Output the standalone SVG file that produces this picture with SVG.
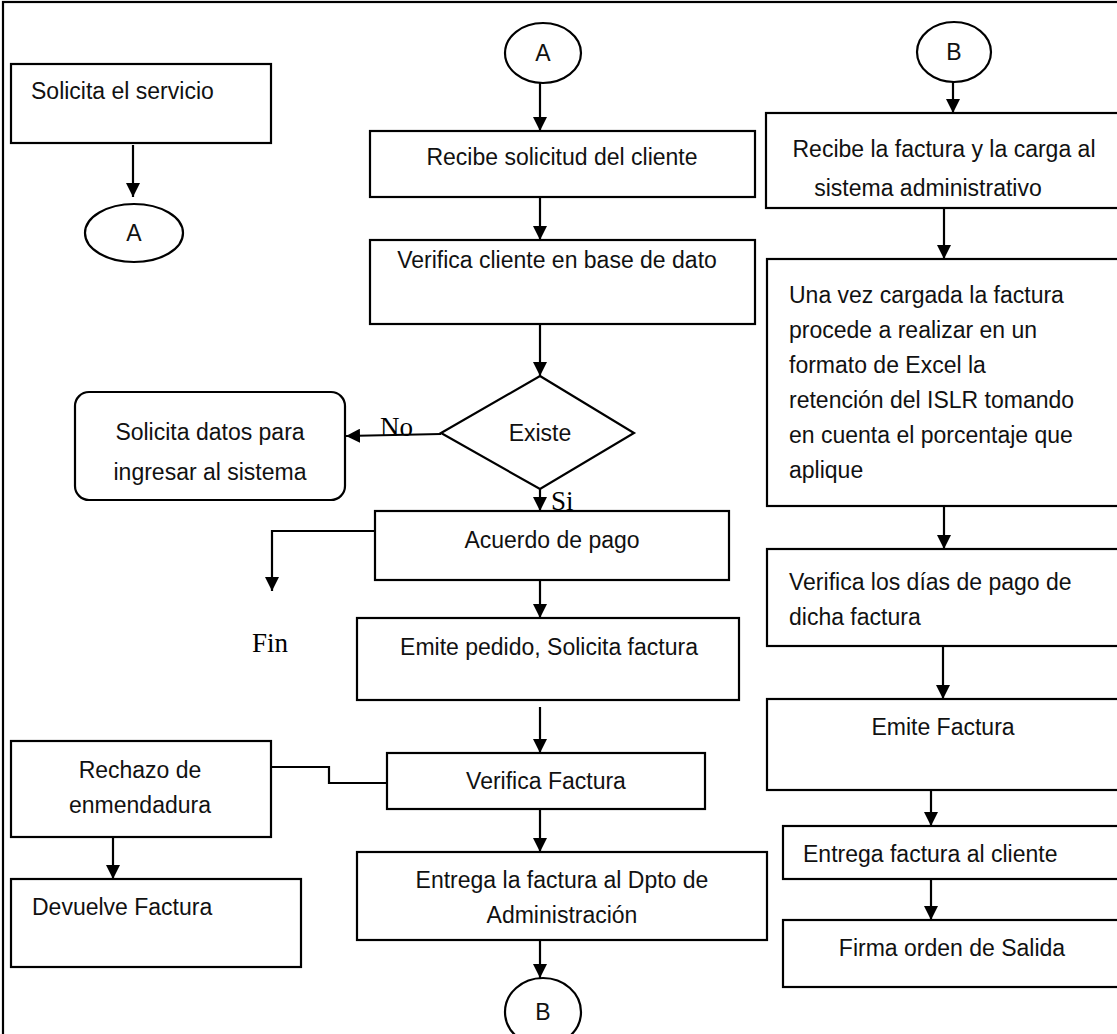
<svg xmlns="http://www.w3.org/2000/svg" width="1117" height="1034" viewBox="0 0 1117 1034">
  <defs>
    <marker id="arrow" markerUnits="userSpaceOnUse" markerWidth="14" markerHeight="14" viewBox="0 0 14 14" refX="14" refY="7" orient="auto">
      <path d="M0,0 L14,7 L0,14 Z" fill="#000"/>
    </marker>
    <style>
      .box { fill: #fff; stroke: #000; stroke-width: 2.2; }
      .conn { fill: none; stroke: #000; stroke-width: 2.2; }
      .arr { fill: none; stroke: #000; stroke-width: 2.2; marker-end: url(#arrow); }
      .t { font-family: "Liberation Sans", Arial, sans-serif; font-size: 23px; fill: #111; }
      .c { text-anchor: middle; }
      .s { font-family: "Liberation Serif", "Times New Roman", serif; font-size: 27px; fill: #000; }
    </style>
  </defs>

  <rect width="1117" height="1034" fill="#fff"/>
  <!-- page frame -->
  <rect x="3" y="2" width="1140" height="1060" fill="none" stroke="#000" stroke-width="2.2"/>

  <!-- connectors -->
  <g id="connectors">
    <line class="arr" x1="133" y1="145" x2="133" y2="197"/>
    <line class="arr" x1="540" y1="83" x2="540" y2="131"/>
    <line class="arr" x1="540" y1="197" x2="540" y2="240"/>
    <line class="arr" x1="540" y1="324" x2="540" y2="376"/>
    <line class="arr" x1="441" y1="434" x2="346" y2="436"/>
    <line class="arr" x1="540" y1="489" x2="540" y2="511"/>
    <polyline class="arr" points="375,531 272,531 272,591"/>
    <line class="arr" x1="540" y1="580" x2="540" y2="618"/>
    <line class="arr" x1="540" y1="707" x2="540" y2="753"/>
    <polyline class="conn" points="271,767 329,767 329,783 387,783"/>
    <line class="arr" x1="113" y1="837" x2="113" y2="879"/>
    <line class="arr" x1="540" y1="809" x2="540" y2="852"/>
    <line class="arr" x1="540" y1="940" x2="540" y2="978"/>
    <line class="arr" x1="953" y1="82" x2="953" y2="113"/>
    <line class="arr" x1="944" y1="208" x2="944" y2="259"/>
    <line class="arr" x1="944" y1="506" x2="944" y2="549"/>
    <line class="arr" x1="943" y1="646" x2="943" y2="699"/>
    <line class="arr" x1="931" y1="790" x2="931" y2="826"/>
    <line class="arr" x1="931" y1="879" x2="931" y2="920"/>
  </g>

  <!-- left column -->
  <g id="solicita-servicio">
    <rect class="box" x="11" y="64" width="260" height="79"/>
    <text class="t" x="31" y="99">Solicita el servicio</text>
  </g>
  <g id="conector-a-salida">
    <ellipse class="box" cx="134" cy="233" rx="49" ry="29"/>
    <text class="t c" x="134" y="241">A</text>
  </g>
  <g id="solicita-datos">
    <rect class="box" x="75" y="392" width="270" height="108" rx="14"/>
    <text class="t c" x="210" y="440">Solicita datos para</text>
    <text class="t c" x="210" y="480">ingresar al sistema</text>
  </g>
  <g id="fin">
    <text class="s c" x="270" y="652">Fin</text>
  </g>
  <g id="rechazo">
    <rect class="box" x="11" y="741" width="260" height="96"/>
    <text class="t c" x="140" y="778">Rechazo de</text>
    <text class="t c" x="140" y="813">enmendadura</text>
  </g>
  <g id="devuelve">
    <rect class="box" x="11" y="879" width="290" height="88"/>
    <text class="t" x="32" y="915">Devuelve Factura</text>
  </g>

  <!-- middle column -->
  <g id="conector-a-entrada">
    <ellipse class="box" cx="543" cy="53" rx="38" ry="30"/>
    <text class="t c" x="543" y="61">A</text>
  </g>
  <g id="recibe-solicitud">
    <rect class="box" x="370" y="131" width="385" height="66"/>
    <text class="t c" x="562" y="165">Recibe solicitud del cliente</text>
  </g>
  <g id="verifica-cliente">
    <rect class="box" x="370" y="240" width="385" height="84"/>
    <text class="t c" x="557" y="268">Verifica cliente en base de dato</text>
  </g>
  <g id="existe">
    <polygon class="box" points="540,376 634,433 540,489 441,433"/>
    <text class="t c" x="540" y="441">Existe</text>
    <text class="s" x="380" y="436">No</text>
    <text class="s" x="551" y="510">Si</text>
  </g>
  <g id="acuerdo-pago">
    <rect class="box" x="375" y="511" width="354" height="69"/>
    <text class="t c" x="552" y="548">Acuerdo de pago</text>
  </g>
  <g id="emite-pedido">
    <rect class="box" x="357" y="618" width="382" height="82"/>
    <text class="t c" x="549" y="655">Emite pedido, Solicita factura</text>
  </g>
  <g id="verifica-factura">
    <rect class="box" x="387" y="753" width="318" height="56"/>
    <text class="t c" x="546" y="789">Verifica Factura</text>
  </g>
  <g id="entrega-dpto">
    <rect class="box" x="357" y="852" width="410" height="88"/>
    <text class="t c" x="562" y="888">Entrega la factura al Dpto de</text>
    <text class="t c" x="562" y="923">Administración</text>
  </g>
  <g id="conector-b-salida">
    <ellipse class="box" cx="543" cy="1012" rx="38" ry="34"/>
    <text class="t c" x="543" y="1020">B</text>
  </g>

  <!-- right column -->
  <g id="conector-b-entrada">
    <ellipse class="box" cx="954" cy="52" rx="37" ry="30"/>
    <text class="t c" x="954" y="60">B</text>
  </g>
  <g id="recibe-factura">
    <rect class="box" x="766" y="113" width="370" height="95"/>
    <text class="t c" x="944" y="157">Recibe la factura y la carga al</text>
    <text class="t c" x="928" y="196">sistema administrativo</text>
  </g>
  <g id="retencion-islr">
    <rect class="box" x="767" y="259" width="370" height="247"/>
    <text class="t" x="789" y="303">Una vez cargada la factura</text>
    <text class="t" x="789" y="338">procede a realizar en un</text>
    <text class="t" x="789" y="373">formato de Excel la</text>
    <text class="t" x="789" y="408">retención del ISLR tomando</text>
    <text class="t" x="789" y="443">en cuenta el porcentaje que</text>
    <text class="t" x="789" y="478">aplique</text>
  </g>
  <g id="verifica-dias">
    <rect class="box" x="767" y="549" width="370" height="97"/>
    <text class="t" x="789" y="590">Verifica los días de pago de</text>
    <text class="t" x="789" y="625">dicha factura</text>
  </g>
  <g id="emite-factura">
    <rect class="box" x="767" y="699" width="370" height="91"/>
    <text class="t c" x="943" y="735">Emite Factura</text>
  </g>
  <g id="entrega-cliente">
    <rect class="box" x="783" y="826" width="354" height="53"/>
    <text class="t" x="803" y="862">Entrega factura al cliente</text>
  </g>
  <g id="firma-salida">
    <rect class="box" x="783" y="920" width="354" height="67"/>
    <text class="t c" x="952" y="956">Firma orden de Salida</text>
  </g>
</svg>
